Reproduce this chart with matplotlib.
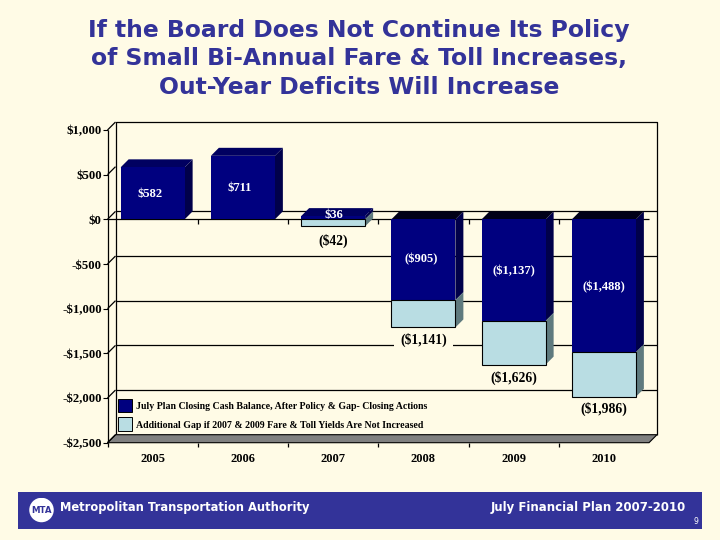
import matplotlib
matplotlib.use("Agg")
import matplotlib.pyplot as plt
from matplotlib.patches import Polygon, Rectangle, Circle

years = ["2005", "2006", "2007", "2008", "2009", "2010"]
plan_values = [582, 711, 36, -905, -1137, -1488]
gap_bottoms = [None, None, -78, -1210, -1626, -1986]
gap_tops = [None, None, 0, -905, -1137, -1488]
plan_labels = ["$582", "$711", "$36", "($905)", "($1,137)", "($1,488)"]
plan_label_y = [284, 350, 48, -450, -575, -755]
plan_label_x = [0.47, 0.47, 0.51, 0.48, 0.50, 0.50]
gap_labels = [None, None, "($42)", "($1,141)", "($1,626)", "($1,986)"]
gap_label_y = [None, None, -245, -1350, -1775, -2120]
yticks = [1000, 500, 0, -500, -1000, -1500, -2000, -2500]
ylabels = ["$1,000", "$500", "$0", "-$500", "-$1,000", "-$1,500", "-$2,000", "-$2,500"]
grid_levels = [0, -500, -1000, -1500, -2000]
legend_names = ["July Plan Closing Cash Balance, After Policy & Gap- Closing Actions",
                "Additional Gap if 2007 & 2009 Fare & Toll Yields Are Not Increased"]

BG = "#FFFBE6"
NAVY, NAVY_TOP, NAVY_SIDE = "#00007F", "#000060", "#00004A"
LIGHT, LIGHT_SIDE = "#B9DDE3", "#5F7A7E"
W, H = 720, 540
L, R, T, B = 107.5, 649.0, 130.0, 442.7
SERIF = "Liberation Serif"

fig = plt.figure(figsize=(7.2, 5.4), dpi=100, facecolor=BG)
ax = fig.add_axes([L / W, 1 - B / H, (R - L) / W, (B - T) / H])
ax.set_xlim(0, 6)
ax.set_ylim(-2500, 1000)
ax.patch.set_alpha(0)
for s in ax.spines.values():
    s.set_visible(False)
ax.set_xticks([])
ax.set_yticks(yticks)
ax.set_yticklabels(ylabels, family=SERIF, fontweight="bold", fontsize=9.2)
ax.tick_params(axis="y", length=3.6, width=0.8, pad=0.6, color="black")

DX = 8 / ((R - L) / 6)
DY = 8 / ((B - T) / 3500)
BW = 64 / ((R - L) / 6)
LOW, HIGH = -2500, 1000


def poly(pts, fc, z, ec="none", lw=0):
    ax.add_patch(Polygon(pts, closed=True, fc=fc, ec=ec, lw=lw, zorder=z, clip_on=False))


def line(xs, ys, z=1, lw=0.9):
    ax.plot(xs, ys, color="black", lw=lw, zorder=z, clip_on=False, solid_capstyle="butt")


# back wall, floor
line([DX, DX, 6 + DX, 6 + DX], [LOW + DY, HIGH + DY, HIGH + DY, LOW + DY])
poly([(0, LOW), (DX, LOW + DY), (6 + DX, LOW + DY), (6, LOW)], "#808080", 1, "black", 0.8)
line([0, 0], [LOW, HIGH], 1.5)
for t in yticks:
    line([0, DX], [t, t + DY], 1.5)
for g in grid_levels:
    line([DX, 6 + DX], [g + DY, g + DY], 1.5)
line([0, 6], [0, 0], 1.5)
for i in range(0, 6):
    line([i, i], [LOW, LOW - 45], 1.5)
    if i > 0:
        line([i, i], [0, -55], 1.5)


def box(i, top, bottom, front, side, cap, edge, z):
    a, b = i + 0.5 - BW / 2, i + 0.5 + BW / 2
    poly([(b, bottom), (b + DX, bottom + DY), (b + DX, top + DY), (b, top)], side, z)
    if cap:
        poly([(a, top), (a + DX, top + DY), (b + DX, top + DY), (b, top)], cap, z)
    ax.add_patch(Rectangle((a, bottom), b - a, top - bottom, fc=front, ec=edge, lw=0.8,
                           zorder=z + 0.02, clip_on=False))


for i, v in enumerate(plan_values):
    z = 3 + i
    if v > 0:
        box(i, v, 0, NAVY, NAVY_SIDE, NAVY_TOP, "none", z + 0.3)
    else:
        box(i, 0, v, NAVY, NAVY_SIDE, "#000018", "none", z + 0.3)
    ax.text(i + plan_label_x[i], plan_label_y[i], plan_labels[i], color="white", family=SERIF,
            fontweight="bold", fontsize=9, ha="center", va="center", zorder=z + 0.45, clip_on=False)
    if gap_bottoms[i] is not None:
        box(i, gap_tops[i], gap_bottoms[i], LIGHT, LIGHT_SIDE, None, "black", z + 0.5)
    if gap_labels[i]:
        ax.text(i + 0.5, gap_label_y[i], gap_labels[i], color="black", family=SERIF,
                fontweight="bold", fontsize=9.8, ha="center", va="center", zorder=2,
                bbox=dict(fc=BG, ec="none", pad=4.5 if i == 3 else 2.5))
    ax.text(i + 0.5, LOW - 178, years[i], color="black", family=SERIF, fontweight="bold",
            fontsize=9, ha="center", va="center", clip_on=False)

# legend
for k, (name, col) in enumerate(zip(legend_names, [NAVY, LIGHT])):
    px_y = 405 + k * 18.5
    fig.add_artist(Rectangle((118 / W, 1 - (px_y + 7) / H), 14 / W, 13.5 / H, fc=col, ec="black",
                             lw=0.7, transform=fig.transFigure))
    fig.text(136 / W, 1 - (px_y + 1.8) / H, name, family=SERIF, fontweight="bold", fontsize=7.1,
             va="center", ha="left", color="black")

# title
for txt, y in zip(["If the Board Does Not Continue Its Policy",
                   "of Small Bi-Annual Fare & Toll Increases,",
                   "Out-Year Deficits Will Increase"], [30, 58, 87]):
    fig.text(359 / W, 1 - y / H, txt, family="DejaVu Sans", fontweight="bold", fontsize=16.9,
             ha="center", va="center", color="#333399")

# footer
fig.add_artist(Rectangle((18 / W, 1 - 529 / H), 684 / W, 37 / H, fc="#333399", ec="none",
                         transform=fig.transFigure))
logo = fig.add_axes([29 / W, 1 - 522.5 / H, 25 / W, 25 / H])
logo.set_zorder(5)
logo.set_xlim(-1, 1)
logo.set_ylim(-1, 1)
logo.axis("off")
logo.add_patch(Circle((0, 0), 0.98, fc="white", ec="none"))
logo.text(0, -0.02, "MTA", color="#333399", fontsize=6.2, fontweight="bold", family="DejaVu Sans",
          ha="center", va="center")
fig.text(60 / W, 1 - 508 / H, "Metropolitan Transportation Authority", family="DejaVu Sans",
         fontweight="bold", fontsize=8.3, color="white", va="center", ha="left")
fig.text(686 / W, 1 - 508 / H, "July Financial Plan 2007-2010", family="DejaVu Sans",
         fontweight="bold", fontsize=8.5, color="white", va="center", ha="right")
fig.text(696 / W, 1 - 521 / H, "9", family="DejaVu Sans", fontsize=5.5, color="white",
         va="center", ha="center")

fig.savefig("out.png", dpi=100, facecolor=BG)
